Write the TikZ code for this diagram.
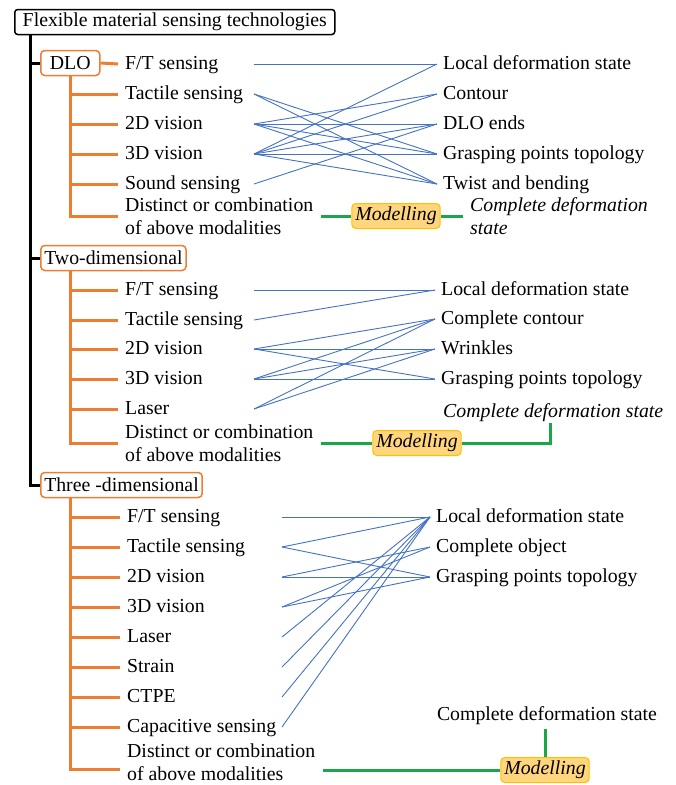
\documentclass[tikz,border=0pt]{standalone}
\usepackage{fontspec}
\setmainfont{Liberation Serif}
\newcommand\diagfont{\fontsize{19.8}{23}\selectfont}
\definecolor{branchorange}{HTML}{ED7D31}
\definecolor{linkblue}{HTML}{4472C4}
\definecolor{modgreen}{HTML}{1BA64A}
\definecolor{modfill}{HTML}{FFD57E}
\definecolor{modedge}{HTML}{FFC000}
\tikzset{
  rootbox/.style={draw=black, line width=1.5pt, rounded corners=3pt, inner xsep=8pt, minimum height=25pt, anchor=west},
  catbox/.style={draw=branchorange, line width=1.5pt, rounded corners=4pt, inner xsep=3.5pt, minimum height=25pt, anchor=west},
  leaf/.style={anchor=west, inner xsep=7pt, inner ysep=0pt, text height=14pt, text depth=4pt},
  multi/.style={anchor=west, inner xsep=7pt, inner ysep=0pt, align=left},
  result/.style={anchor=west, inner xsep=6pt, inner ysep=0pt, text height=14pt, text depth=4pt},
  modbox/.style={draw=modedge, fill=modfill, rounded corners=4pt, line width=1pt, inner xsep=3.5pt, minimum height=25pt, font=\diagfont\itshape},
  trunk/.style={draw=black, line width=3pt},
  branch/.style={draw=branchorange, line width=3pt},
  link/.style={draw=linkblue, line width=0.9pt},
  model/.style={draw=modgreen, line width=3pt}
}
\begin{document}
\begin{tikzpicture}[x=1pt, y=-1pt, every node/.append style={font=\diagfont}]
  \useasboundingbox (0,0) rectangle (676,785);
  \coordinate (bx) at (30,0);
  \coordinate (ox) at (70,0);
  \coordinate (sa) at (254,0);
  \coordinate (sc) at (282,0);
  % root and the three kinds of material
  \node [rootbox] (root) at (14,22) {Flexible material sensing technologies};
  \node [catbox, minimum width=59pt] (dlo) at (40,63) {DLO};
  \node [catbox] (two) at (40,258) {Two-dimensional};
  \node [catbox] (three) at (40,485) {Three -dimensional};
  \draw [trunk] (bx |- root.south) |- (three.west);
  \draw [trunk] (bx |- dlo.west) -- (dlo.west);
  \draw [trunk] (bx |- two.west) -- (two.west);
  % DLO
  \node [leaf] (d1) at (118,64) {F/T sensing};
  \node [leaf] (d2) at (118,94) {Tactile sensing};
  \node [leaf] (d3) at (118,124) {2D vision};
  \node [leaf] (d4) at (118,154) {3D vision};
  \node [leaf] (d5) at (118,184) {Sound sensing};
  \node [multi] (d6) at (118,216) {Distinct or combination\\of above modalities};
  \draw [branch] (ox |- dlo.south) |- (d6.west);
  \draw [branch] (dlo.east) -- (d1.west);
  \draw [branch] (ox |- d2) -- (d2.west);
  \draw [branch] (ox |- d3) -- (d3.west);
  \draw [branch] (ox |- d4) -- (d4.west);
  \draw [branch] (ox |- d5) -- (d5.west);
  \node [result] (rd1) at (437,64) {Local deformation state};
  \node [result] (rd2) at (437,94) {Contour};
  \node [result] (rd3) at (437,124) {DLO ends};
  \node [result] (rd4) at (437,154) {Grasping points topology};
  \node [result] (rd5) at (437,184) {Twist and bending};
  \draw [link] (sa |- d1) -- (rd1.west);
  \draw [link] (sa |- d2) -- (rd4.west);
  \draw [link] (sa |- d2) -- (rd5.west);
  \draw [link] (sa |- d3) -- (rd2.west);
  \draw [link] (sa |- d3) -- (rd3.west);
  \draw [link] (sa |- d3) -- (rd4.west);
  \draw [link] (sa |- d3) -- (rd5.west);
  \draw [link] (sa |- d4) -- (rd1.west);
  \draw [link] (sa |- d4) -- (rd2.west);
  \draw [link] (sa |- d4) -- (rd3.west);
  \draw [link] (sa |- d4) -- (rd4.west);
  \draw [link] (sa |- d4) -- (rd5.west);
  \draw [link] (sa |- d5) -- (rd3.west);
  \coordinate (gd) at (321,216);
  \node [modbox] (md) at (396,216) {Modelling};
  \node [multi, font=\diagfont\itshape] (cd) at (463,216) {Complete deformation\\state};
  \draw [model] (gd) -- (md.west);
  \draw [model] (md.east) -- (cd.west);
  % two-dimensional
  \node [leaf] (w1) at (118,290) {F/T sensing};
  \node [leaf] (w2) at (118,320) {Tactile sensing};
  \node [leaf] (w3) at (118,349) {2D vision};
  \node [leaf] (w4) at (118,379) {3D vision};
  \node [leaf] (w5) at (118,409) {Laser};
  \node [multi] (w6) at (118,443) {Distinct or combination\\of above modalities};
  \draw [branch] (ox |- two.south) |- (w6.west);
  \draw [branch] (ox |- w1) -- (w1.west);
  \draw [branch] (ox |- w2) -- (w2.west);
  \draw [branch] (ox |- w3) -- (w3.west);
  \draw [branch] (ox |- w4) -- (w4.west);
  \draw [branch] (ox |- w5) -- (w5.west);
  \node [result] (rw1) at (435,290) {Local deformation state};
  \node [result] (rw2) at (435,319) {Complete contour};
  \node [result] (rw3) at (435,349) {Wrinkles};
  \node [result] (rw4) at (435,379) {Grasping points topology};
  \draw [link] (sa |- w1) -- (rw1.west);
  \draw [link] (sa |- w2) -- (rw1.west);
  \draw [link] (sa |- w3) -- (rw2.west);
  \draw [link] (sa |- w3) -- (rw3.west);
  \draw [link] (sa |- w3) -- (rw4.west);
  \draw [link] (sa |- w4) -- (rw2.west);
  \draw [link] (sa |- w4) -- (rw3.west);
  \draw [link] (sa |- w4) -- (rw4.west);
  \draw [link] (sa |- w5) -- (rw2.west);
  \draw [link] (sa |- w5) -- (rw3.west);
  \coordinate (gw) at (321,443);
  \node [modbox] (mw) at (417,443) {Modelling};
  \node [result, inner xsep=2pt, inner ysep=2pt, font=\diagfont\itshape] (cw) at (441,412) {Complete deformation state};
  \draw [model] (gw) -- (mw.west);
  \draw [model] (mw.east) -| ([xshift=-3pt]cw.south);
  % three-dimensional
  \node [leaf] (h1) at (120,517) {F/T sensing};
  \node [leaf] (h2) at (120,547) {Tactile sensing};
  \node [leaf] (h3) at (120,577) {2D vision};
  \node [leaf] (h4) at (120,607) {3D vision};
  \node [leaf] (h5) at (120,637) {Laser};
  \node [leaf] (h6) at (120,667) {Strain};
  \node [leaf] (h7) at (120,697) {CTPE};
  \node [leaf] (h8) at (120,727) {Capacitive sensing};
  \node [multi] (h9) at (120,762) {Distinct or combination\\of above modalities};
  \draw [branch] (ox |- three.south) |- ([yshift=-7pt]h9.west);
  \draw [branch] (ox |- h1) -- (h1.west);
  \draw [branch] (ox |- h2) -- (h2.west);
  \draw [branch] (ox |- h3) -- (h3.west);
  \draw [branch] (ox |- h4) -- (h4.west);
  \draw [branch] (ox |- h5) -- (h5.west);
  \draw [branch] (ox |- h6) -- (h6.west);
  \draw [branch] (ox |- h7) -- (h7.west);
  \draw [branch] (ox |- h8) -- (h8.west);
  \node [result] (rh1) at (430,517) {Local deformation state};
  \node [result] (rh2) at (430,547) {Complete object};
  \node [result] (rh3) at (430,577) {Grasping points topology};
  \draw [link] (sc |- h1) -- (rh1.west);
  \draw [link] (sc |- h2) -- (rh1.west);
  \draw [link] (sc |- h2) -- (rh3.west);
  \draw [link] (sc |- h3) -- (rh2.west);
  \draw [link] (sc |- h3) -- (rh3.west);
  \draw [link] (sc |- h4) -- (rh2.west);
  \draw [link] (sc |- h4) -- (rh3.west);
  \draw [link] (sc |- h5) -- (rh1.west);
  \draw [link] (sc |- h6) -- (rh1.west);
  \draw [link] (sc |- h7) -- (rh1.west);
  \draw [link] (sc |- h8) -- (rh1.west);
  \coordinate (gh) at (323,770);
  \node [modbox] (mh) at (545,770) {Modelling};
  \node [leaf, anchor=center, inner ysep=5pt] (ch) at (547,715) {Complete deformation state};
  \draw [model] (gh) -- (mh.west);
  \draw [model] (mh.north) -- (mh.north |- ch.south);
\end{tikzpicture}
\end{document}
